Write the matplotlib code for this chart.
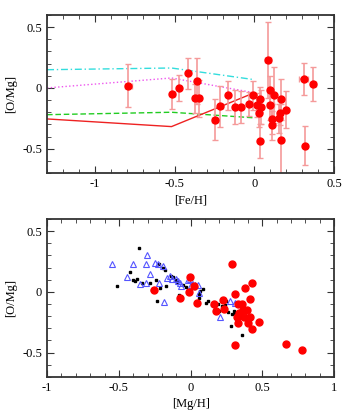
import matplotlib.pyplot as plt
import numpy as np
from matplotlib.ticker import MultipleLocator, FuncFormatter

plt.rcParams['font.family'] = ['Liberation Serif', 'DejaVu Serif']
plt.rcParams['axes.unicode_minus'] = False

# top panel: stars with error bars
fe_h = [-0.79, -0.516, -0.474, -0.415, -0.363, -0.37, -0.35, -0.25, -0.214, -0.164,
        -0.124, -0.082, -0.036, -0.01, 0.017, 0.027, 0.038, 0.04, 0.038, 0.086,
        0.1, 0.1, 0.113, 0.113, 0.12, 0.157, 0.159, 0.167, 0.168, 0.199,
        0.308, 0.317, 0.369]
o_mg = [0.02, -0.05, 0.0, 0.12, 0.055, -0.085, -0.085, -0.26, -0.15, -0.06,
        -0.157, -0.157, -0.13, -0.06, -0.14, -0.205, -0.095, -0.157, -0.435, 0.23,
        -0.02, -0.14, -0.255, -0.307, -0.06, -0.25, -0.205, -0.095, -0.43, -0.178,
        0.074, -0.477, 0.033]
fe_err = [0.02, 0.015, 0.0, 0.0, 0.0, 0.015, 0.015, 0.015, 0.015, 0.0,
          0.0, 0.0, 0.0, 0.015, 0.015, 0.015, 0.0, 0.0, 0.0, 0.02,
          0.0, 0.02, 0.0, 0.0, 0.0, 0.0, 0.0, 0.0, 0.0, 0.0,
          0.03, 0.0, 0.015]
o_err = [0.18, 0.12, 0.11, 0.13, 0.19, 0.12, 0.15, 0.17, 0.17, 0.12,
         0.14, 0.13, 0.1, 0.12, 0.1, 0.12, 0.1, 0.14, 0.14, 0.31,
         0.12, 0.12, 0.12, 0.12, 0.23, 0.12, 0.1, 0.17, 0.3, 0.15,
         0.135, 0.16, 0.14]

# model curves
mod_x = [-1.3, -0.52, 0.0]
mod_cyan = [0.15, 0.164, 0.068]
mod_magenta = [0.0, 0.082, -0.04]
mod_green = [-0.22, -0.20, -0.246]
red_x = [-1.3, -0.52, -0.02]
mod_red = [-0.255, -0.318, -0.05]

# bottom panel
red_mg = [-0.255, -0.002, -0.014, 0.021, -0.074, 0.046, 0.162, 0.178, 0.225, 0.229,
          0.287, 0.308, 0.329, 0.356, 0.377, 0.428, 0.417, 0.394, 0.363, 0.338,
          0.324, 0.333, 0.375, 0.417, 0.4, 0.474, 0.426, 0.306, 0.664, 0.775]
red_omg = [0.019, 0.12, 0.003, 0.052, -0.052, -0.09, -0.098, -0.158, -0.063, -0.139,
           0.23, -0.019, -0.098, -0.098, 0.03, 0.071, -0.06, -0.148, -0.153, -0.175,
           -0.21, -0.26, -0.207, -0.21, -0.26, -0.249, -0.309, -0.44, -0.429, -0.478]

blue_mg = [-0.551, -0.442, -0.4, -0.301, -0.313, -0.352, -0.313, -0.282, -0.245, -0.227,
           -0.192, -0.222, -0.183, -0.162, -0.141, -0.13, -0.104, -0.085, -0.076, -0.065,
           -0.019, -0.002, 0.005, 0.028, 0.053, 0.06, 0.208, 0.273, 0.306]
blue_omg = [0.232, 0.126, 0.232, 0.303, 0.232, 0.068, 0.071, 0.145, 0.24, 0.227,
            0.213, 0.074, -0.082, 0.112, 0.134, 0.104, 0.107, 0.093, 0.071, 0.049,
            0.098, 0.107, 0.057, 0.057, 0.057, -0.011, -0.205, -0.074, -0.093]

black_mg = [-0.361, -0.512, -0.424, -0.4, -0.391, -0.373, -0.338, -0.28, -0.271, -0.241,
            -0.231, -0.22, -0.213, -0.19, -0.18, -0.169, -0.134, -0.12, -0.104, -0.095,
            -0.081, -0.065, -0.053, -0.03, -0.007, 0.028, 0.058, 0.058, 0.065, 0.086,
            0.106, 0.118, 0.146, 0.153, 0.167, 0.167, 0.194, 0.201, 0.22, 0.238,
            0.248, 0.262, 0.278, 0.285, 0.299, 0.31, 0.322, 0.345, 0.405, 0.356]
black_omg = [0.358, 0.052, 0.161, 0.096, 0.087, 0.107, 0.076, 0.076, 0.016, 0.101,
             -0.079, 0.227, 0.03, 0.194, 0.18, 0.049, 0.129, 0.12, 0.098, 0.084,
             -0.027, -0.052, 0.057, 0.038, 0.016, 0.03, -0.019, -0.052, 0.008, 0.022,
             -0.09, -0.071, -0.104, -0.109, -0.142, -0.164, -0.096, -0.161, -0.12, -0.104,
             -0.074, -0.164, -0.279, -0.183, -0.158, -0.175, -0.194, -0.21, -0.254, -0.358]


def gp_fmt(v, pos):
    s = '%g' % round(v, 3)
    return '0' if s == '-0' else s


def style_axes(ax):
    ax.xaxis.set_major_locator(MultipleLocator(0.5))
    ax.xaxis.set_minor_locator(MultipleLocator(0.1))
    ax.yaxis.set_major_locator(MultipleLocator(0.5))
    ax.yaxis.set_minor_locator(MultipleLocator(0.1))
    ax.xaxis.set_major_formatter(FuncFormatter(gp_fmt))
    ax.yaxis.set_major_formatter(FuncFormatter(gp_fmt))
    ax.tick_params(which='both', direction='in', top=True, right=True,
                   labelsize=9, color='#333333')
    ax.tick_params(which='major', length=5)
    ax.tick_params(which='minor', length=3)
    for s in ax.spines.values():
        s.set_linewidth(1.3)
        s.set_color('#333333')
    ax.set_ylim(-0.7, 0.6)
    ax.set_ylabel('[O/Mg]', fontsize=9, labelpad=4)


fig = plt.figure(figsize=(3.54, 4.11), dpi=100)
ax1 = fig.add_axes([0.133, 0.579, 0.811, 0.3845])
ax2 = fig.add_axes([0.133, 0.083, 0.811, 0.384])

ax1.plot(mod_x, mod_cyan, color='#33dddd', lw=1, dashes=[5, 2, 1, 2])
ax1.plot(mod_x, mod_magenta, color='#ee55ee', lw=1, linestyle=':')
ax1.plot(mod_x, mod_green, color='#22cc22', lw=1, dashes=[4, 2])
ax1.plot(red_x, mod_red, color='#ee2222', lw=1)
ax1.errorbar(fe_h, o_mg, xerr=fe_err, yerr=o_err, fmt='o', color='red',
             ms=5, ecolor='#f59a9a', elinewidth=1.2, capsize=2.5, capthick=1)
ax1.set_xlim(-1.3, 0.5)
style_axes(ax1)
ax1.set_xlabel('[Fe/H]', fontsize=9, labelpad=3)

ax2.plot(black_mg, black_omg, 's', color='black', ms=2, lw=0)
ax2.plot(blue_mg, blue_omg, '^', mfc='none', mec='#5555ff', ms=5, mew=0.8, lw=0)
ax2.plot(red_mg, red_omg, 'o', color='red', ms=5, lw=0)
ax2.set_xlim(-1, 1)
style_axes(ax2)
ax2.set_xlabel('[Mg/H]', fontsize=9, labelpad=3)

plt.savefig('out.png', dpi=100)
